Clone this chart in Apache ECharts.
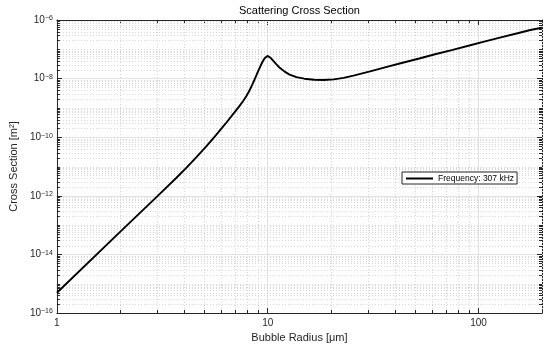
<!DOCTYPE html>
<html><head><meta charset="utf-8">
<script src="https://cdn.jsdelivr.net/npm/echarts@6/dist/echarts.min.js"></script>
<style>html,body{margin:0;padding:0;background:#fff}#c{width:550px;height:350px}</style>
</head><body><div id="c"></div>
<script>
// Bubble radius [µm]
const radius = [1, 2.0, 3.0, 3.69, 4.11, 4.58, 5.10, 5.67, 6.32, 7.03, 7.34, 7.66, 7.91, 8.17, 8.44, 8.71, 9.00, 9.25, 9.45, 9.65, 9.81, 9.97, 10.13, 10.35, 10.57, 10.92, 11.40, 12.03, 12.70, 13.68, 14.91, 16.60, 18.48, 20.57, 22.91, 25.51, 30.60, 36.35, 43.62, 52.35, 62.18, 74.61, 89.5, 106.3, 127.6, 153.1, 176.1, 200];
// Scattering cross section [m^2]
const crossSection = [4.91e-16, 5.97e-14, 9.77e-13, 4.12e-12, 8.99e-12, 2.04e-11, 4.73e-11, 1.15e-10, 2.94e-10, 7.74e-10, 1.15e-9, 1.75e-9, 2.50e-9, 3.78e-9, 6.07e-9, 1.02e-8, 1.75e-8, 2.74e-8, 3.75e-8, 4.85e-8, 5.6e-8, 5.95e-8, 5.65e-8, 5.02e-8, 4.29e-8, 3.26e-8, 2.34e-8, 1.73e-8, 1.37e-8, 1.12e-8, 9.93e-9, 9.17e-9, 8.95e-9, 9.39e-9, 1.06e-8, 1.27e-8, 1.76e-8, 2.47e-8, 3.47e-8, 4.86e-8, 6.78e-8, 9.42e-8, 1.32e-7, 1.83e-7, 2.56e-7, 3.54e-7, 4.55e-7, 5.45e-7];
const xTickLabels = [1, 10, 100];
const yTickExponents = [-16, -14, -12, -10, -8, -6];
const seriesName = 'Frequency: 307 kHz';
const titleText = 'Scattering Cross Section';
const xName = 'Bubble Radius [\u03bcm]';
const yName = 'Cross Section [m\u00b2]';

const FONT = '"Liberation Sans", Arial, Helvetica, sans-serif';
const AX = '#262626';
const xMin = 1, xMax = 200, yMin = yTickExponents[0], yMax = yTickExponents[yTickExponents.length - 1];

// minor grid positions (log decades)
const minorX = [];
for (let d = 1; d <= 100; d *= 10) for (let k = 2; k <= 9; k++) if (k * d <= xMax) minorX.push(k * d);
const minorY = [];
for (let e = yMin; e < yMax; e++) {
  for (let k = 1; k <= 9; k++) {
    if (k === 1 && yTickExponents.indexOf(e) >= 0) continue;
    minorY.push(e + Math.log10(k));
  }
}

const chart = echarts.init(document.getElementById('c'), null, {renderer: 'canvas'});

function vLines(params, api) {
  const cs = params.coordSys;
  const x = Math.round(api.coord([api.value(0), yMin])[0]) + 0.5;
  const top = cs.y, bot = cs.y + cs.height;
  return {type: 'group', silent: true, children: [
    {type: 'line', shape: {x1: x, y1: top, x2: x, y2: bot}, style: {stroke: '#d4d4d4', lineWidth: 1, lineDash: [1, 2]}},
    {type: 'line', shape: {x1: x, y1: bot, x2: x, y2: bot - 3}, style: {stroke: AX, lineWidth: 1}},
    {type: 'line', shape: {x1: x, y1: top, x2: x, y2: top + 3}, style: {stroke: AX, lineWidth: 1}}
  ]};
}
function hLines(params, api) {
  const cs = params.coordSys;
  const y = Math.round(api.coord([xMin, api.value(1)])[1]) + 0.5;
  const l = cs.x, r = cs.x + cs.width;
  return {type: 'group', silent: true, children: [
    {type: 'line', shape: {x1: l, y1: y, x2: r, y2: y}, style: {stroke: '#d4d4d4', lineWidth: 1, lineDash: [1, 2]}},
    {type: 'line', shape: {x1: l, y1: y, x2: l + 3, y2: y}, style: {stroke: AX, lineWidth: 1}},
    {type: 'line', shape: {x1: r, y1: y, x2: r - 3, y2: y}, style: {stroke: AX, lineWidth: 1}}
  ]};
}

const baseX = {
  type: 'log', logBase: 10, min: xMin, max: xMax,
  axisLine: {show: true, lineStyle: {color: AX, width: 1}},
  axisTick: {show: true, inside: true, length: 5, lineStyle: {color: AX}},
  splitLine: {show: false}
};
const baseY = {
  type: 'value', min: yMin, max: yMax, interval: 2,
  axisLine: {show: true, lineStyle: {color: AX, width: 1}},
  axisTick: {show: true, inside: true, length: 5, lineStyle: {color: AX}},
  splitLine: {show: false}
};

chart.setOption({
  animation: false,
  backgroundColor: '#fff',
  textStyle: {fontFamily: FONT},
  grid: {left: 48, right: 8, top: 20, bottom: 37},
  legend: {
    data: [seriesName], left: 402, top: 172, padding: [2, 3, 1, 4],
    icon: 'rect', itemWidth: 27, itemHeight: 2, borderColor: AX, borderWidth: 1, backgroundColor: '#fff',
    itemStyle: {color: '#000'},
    textStyle: {fontSize: 8.5, color: '#000', fontFamily: FONT}
  },
  xAxis: [
    Object.assign({}, baseX, {
      position: 'bottom',
      name: xName, nameLocation: 'middle', nameGap: 13,
      nameTextStyle: {fontSize: 11, color: AX, fontFamily: FONT},
      splitLine: {show: true, lineStyle: {color: '#e2e2e2', width: 1}},
      axisLabel: {
        show: true, margin: 5, fontSize: 10, color: AX, fontFamily: FONT,
        formatter: v => {
          const m = xTickLabels.find(t => Math.abs(Math.log10(v) - Math.log10(t)) < 1e-6);
          return m === undefined ? '' : String(m);
        }
      }
    }),
    Object.assign({}, baseX, {
      position: 'top',
      name: titleText, nameLocation: 'middle', nameGap: 4,
      nameTextStyle: {fontSize: 11, color: '#000', fontFamily: FONT},
      axisLabel: {show: false}
    })
  ],
  yAxis: [
    Object.assign({}, baseY, {
      position: 'left',
      name: yName, nameLocation: 'middle', nameGap: 33,
      nameTextStyle: {fontSize: 11, color: AX, fontFamily: FONT},
      splitLine: {show: true, lineStyle: {color: '#e2e2e2', width: 1}},
      axisLabel: {
        show: true, margin: 4, color: AX,
        formatter: v => '{b|10}{s|' + (v < 0 ? '\u2212' + Math.abs(v) : v) + '}',
        rich: {
          b: {fontSize: 10, color: AX, fontFamily: FONT, lineHeight: 10, verticalAlign: 'bottom'},
          s: {fontSize: 7, color: AX, fontFamily: FONT, lineHeight: 7, padding: [0, 0, 5, 0], verticalAlign: 'top'}
        }
      }
    }),
    Object.assign({}, baseY, {position: 'right', axisLabel: {show: false}})
  ],
  series: [
    {
      type: 'custom', name: 'minorX', coordinateSystem: 'cartesian2d', xAxisIndex: 0, yAxisIndex: 0,
      renderItem: vLines, data: minorX.map(v => [v, yMin]), z: 1, silent: true, clip: false
    },
    {
      type: 'custom', name: 'minorY', coordinateSystem: 'cartesian2d', xAxisIndex: 0, yAxisIndex: 0,
      renderItem: hLines, data: minorY.map(v => [xMin, v]), z: 1, silent: true, clip: false
    },
    {
      type: 'line', name: seriesName, xAxisIndex: 0, yAxisIndex: 0,
      data: radius.map((r, i) => [r, Math.log10(crossSection[i])]),
      symbol: 'none', showSymbol: false, smooth: false,
      lineStyle: {color: '#000', width: 1.9}, itemStyle: {color: '#000'}, z: 5
    }
  ]
});
</script>
</body></html>
